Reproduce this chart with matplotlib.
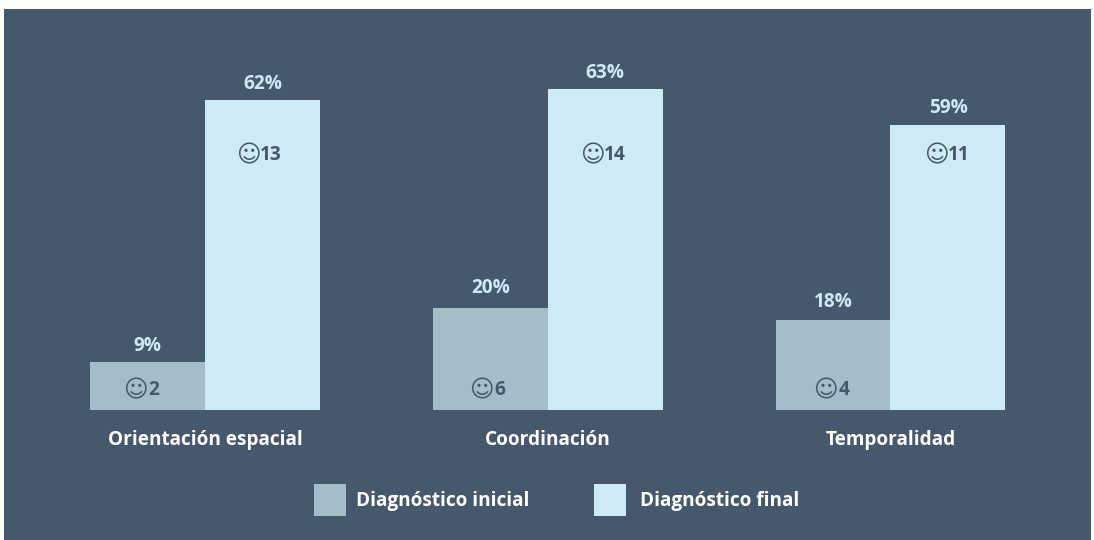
import matplotlib
matplotlib.use('Agg')
import matplotlib.pyplot as plt
from matplotlib.patches import Rectangle, Patch
import numpy as np

plt.rcParams['font.family'] = ['Open Sans', 'DejaVu Sans']

categories = ['Orientación espacial', 'Coordinación', 'Temporalidad']
series_names = ['Diagnóstico inicial', 'Diagnóstico final']
# bar heights as drawn, the printed percents are a bit rounded against them
initial_heights = [9.6, 20.4, 18.0]
final_heights = [62.0, 64.2, 57.0]
initial_labels = ['9%', '20%', '18%']
final_labels = ['62%', '63%', '59%']
initial_counts = ['2', '6', '4']
final_counts = ['13', '14', '11']

# layout, in pixels of the 1094x540 picture
W, H = 1094, 540
panel_left, panel_right, panel_top, panel_bottom = 4, 1091, 9, 540
base_y = 410
first_center, spacing, bar_w = 205, 342.75, 115
px_per_unit = 5.0
initial_nudge = [1, 4, 6]
final_nudge = [-3, -1.5, -0.5]
initial_gap = [6, 10, 8]
final_gap = [6, 6, 7]
legend_x = [314, 594]
legend_pad = [10, 14]

bg = '#46586c'
c_initial = '#a5bcc9'
c_final = '#cdeaf6'
fs = 13.7

fig = plt.figure(figsize=(W / 100, H / 100), dpi=100, facecolor='white')
fig.patches.append(Rectangle((panel_left / W, 1 - panel_bottom / H),
                             (panel_right - panel_left) / W, (panel_bottom - panel_top) / H,
                             transform=fig.transFigure, facecolor=bg, edgecolor='none', zorder=-1))

ax = fig.add_axes([panel_left / W, 1 - base_y / H, (panel_right - panel_left) / W, (base_y - panel_top) / H])
ax.patch.set_alpha(0)
ax.set_xlim((panel_left - first_center) / spacing, (panel_right - first_center) / spacing)
ax.set_ylim(0, (base_y - panel_top) / px_per_unit)
for s in ax.spines.values():
    s.set_visible(False)

x = np.arange(len(categories))
w = bar_w / spacing
ax.bar(x - w / 2, initial_heights, w, color=c_initial)
ax.bar(x + w / 2, final_heights, w, color=c_final)

ax.set_xticks(x)
ax.set_xticklabels(categories, fontsize=fs, fontweight='bold', color='white')
ax.tick_params(axis='x', length=0, pad=14.5)
ax.set_yticks([])


def count_label(xpos, ypx, count, nudge, face_gap):
    y = (base_y - ypx) / px_per_unit
    ax.annotate('\u263a', (xpos, y), xytext=(nudge - face_gap, -1), textcoords='offset pixels', ha='right', va='center',
                fontsize=17, color=bg, family='DejaVu Sans')
    ax.annotate(count, (xpos, y), xytext=(nudge, -1), textcoords='offset pixels', ha='left', va='center',
                fontsize=fs, fontweight='bold', color=bg)


for i in range(len(categories)):
    ax.annotate(initial_labels[i], (x[i] - w / 2, initial_heights[i]), xytext=(0, initial_gap[i]),
                textcoords='offset pixels', ha='center', va='bottom', fontsize=fs, fontweight='bold', color=c_final)
    ax.annotate(final_labels[i], (x[i] + w / 2, final_heights[i]), xytext=(0, final_gap[i]),
                textcoords='offset pixels', ha='center', va='bottom', fontsize=fs, fontweight='bold', color=c_final)
    count_label(x[i] - w / 2, 389, initial_counts[i], initial_nudge[i], 1)
    count_label(x[i] + w / 2, 154, final_counts[i], final_nudge[i], -1)

# two legends because the gap to the text is not the same in the original
fs_px = fs * 100 / 72
for name, col, lx, pad in zip(series_names, [c_initial, c_final], legend_x, legend_pad):
    leg = fig.legend(handles=[Patch(facecolor=col, edgecolor='none', label=name)], loc='center left',
                     bbox_to_anchor=(lx / W, 1 - 500 / H), frameon=False, borderpad=0, borderaxespad=0,
                     handlelength=32 / fs_px, handleheight=2.2, handletextpad=pad / fs_px,
                     prop={'family': 'Open Sans', 'weight': 'bold', 'size': fs})
    for t in leg.get_texts():
        t.set_color('white')

fig.savefig('out.png', dpi=100, facecolor=fig.get_facecolor())
